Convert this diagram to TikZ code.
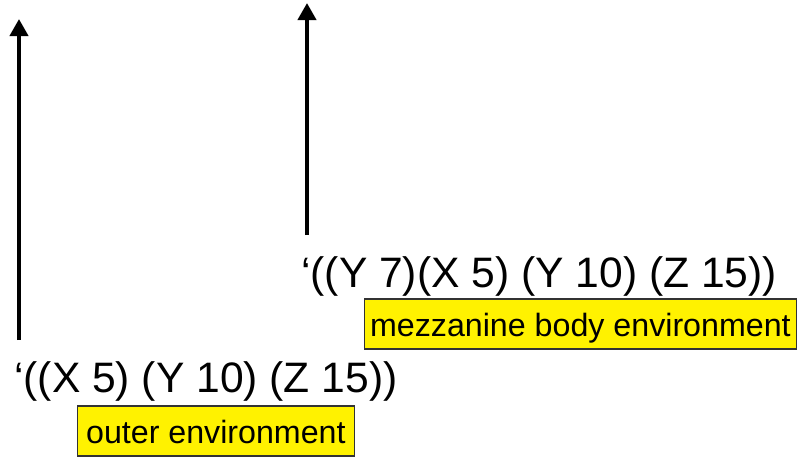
\documentclass[tikz,border=0pt]{standalone}
\usepackage{fontspec}
\setmainfont{Liberation Sans}
\usetikzlibrary{arrows.meta}
\begin{document}
\begin{tikzpicture}[x=1pt,y=-1pt,
  code/.style={anchor=base west,inner sep=0pt,font=\fontsize{42.6}{50}\selectfont},
  envbox/.style={anchor=base west,fill=yellow,draw=black!80,line width=1.2pt,inner ysep=0pt,
    text height=37pt,text depth=13pt,font=\fontsize{32.2}{38}\selectfont},
  uparrow/.style={line width=4pt,-{Triangle[width=18pt,length=17pt]}}]
\useasboundingbox (0,0) rectangle (801,456);
\node[code] (mid) at (301,287) {‘((Y 7)(X 5) (Y 10) (Z 15))};
\node[code] (outer) at (14,392) {‘((X 5) (Y 10) (Z 15))};
\node[envbox,inner xsep=6pt] (mezzbox) at (363.5,336) {mezzanine body environment};
\node[envbox,inner xsep=9pt] (outerbox) at (76.5,443) {outer environment};
\coordinate (a1s) at (19,340);
\coordinate (a1e) at (19,19);
\coordinate (a2s) at (307,235);
\coordinate (a2e) at (307,3);
\draw[uparrow] (a1s) -- (a1e);
\draw[uparrow] (a2s) -- (a2e);
\end{tikzpicture}
\end{document}
